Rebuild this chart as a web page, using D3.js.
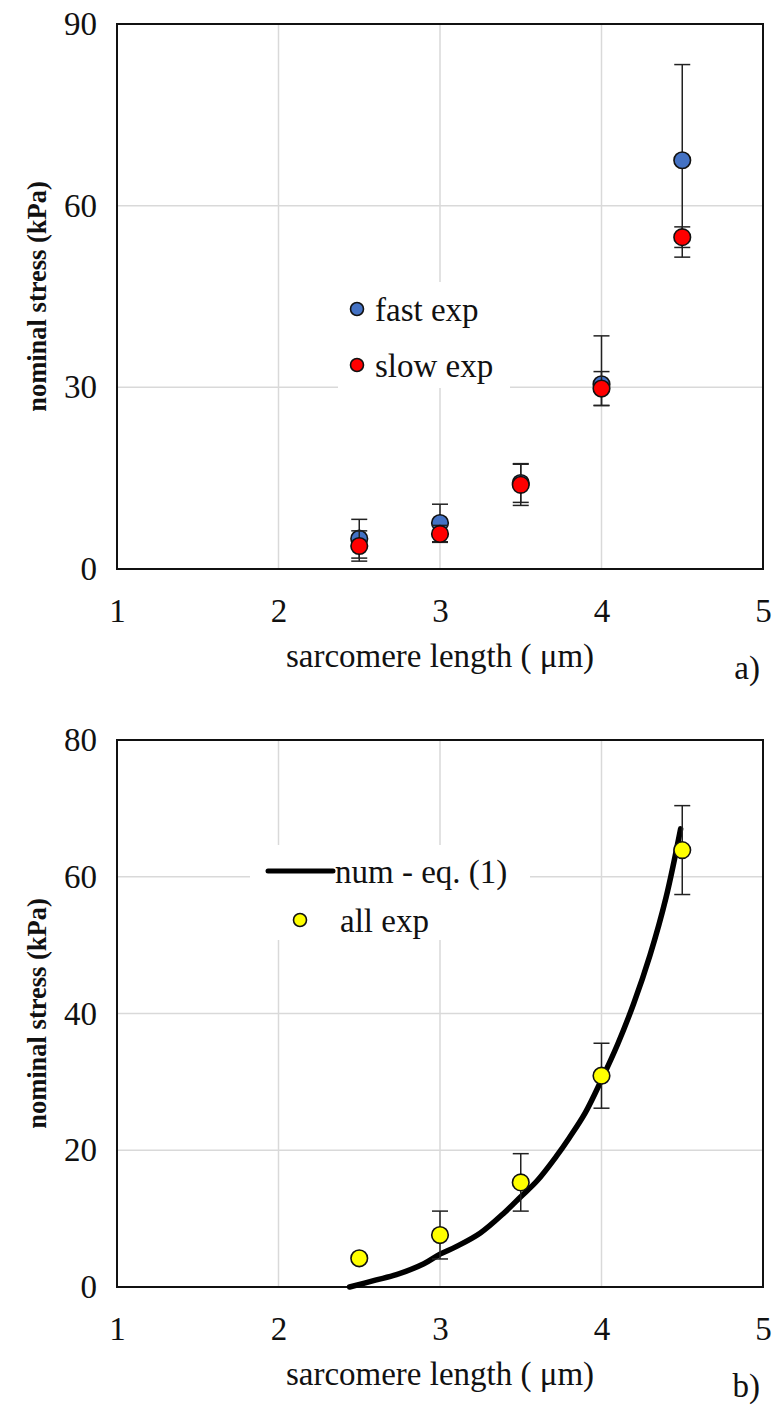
<!DOCTYPE html>
<html>
<head>
<meta charset="utf-8">
<script src="https://cdn.jsdelivr.net/npm/d3@7"></script>
<style>
  html, body { margin: 0; padding: 0; background: #fff; }
  svg { display: block; }
  text { font-family: "Liberation Serif", "Times New Roman", serif; fill: #111; }
</style>
</head>
<body>
<svg id="chart" width="773" height="1410"></svg>
<script>
// ---------------- data ----------------
const xTicks = [1, 2, 3, 4, 5];
const aYTicks = [0, 30, 60, 90];
const bYTicks = [0, 20, 40, 60, 80];

const sarcomereLength = [2.5, 3.0, 3.5, 4.0, 4.5];

// panel a)
const fastExp = [5.0, 7.6, 14.2, 30.5, 67.5];
const fastErrUp = [3.2, 3.1, 3.2, 8.0, 15.8];
const fastErrDown = [3.2, 3.1, 3.2, 3.5, 16.0];
const slowExp = [3.8, 5.8, 13.9, 29.8, 54.8];
const slowErrUp = [2.5, 1.4, 3.4, 2.8, 1.7];
const slowErrDown = [2.5, 1.4, 3.4, 2.8, 1.7];

// panel b)
const allExp = [4.2, 7.6, 15.3, 30.9, 63.9];
const allErrUp = [0.0, 3.5, 4.2, 4.75, 6.5];
const allErrDown = [0.0, 3.5, 4.2, 4.75, 6.5];
const numX = [2.44, 2.6, 2.73, 2.9, 3.0, 3.1, 3.25, 3.4, 3.5, 3.6, 3.72, 3.8, 3.9, 4.0, 4.1, 4.2, 4.3, 4.4, 4.49];
const numY = [0.0, 1.0, 1.8, 3.4, 4.8, 5.9, 7.9, 10.9, 13.2, 15.5, 19.1, 21.8, 25.5, 30.3, 35.5, 41.5, 48.5, 57.0, 67.0];

const xLabel = "sarcomere length ( \u03bcm)";
const yLabel = "nominal stress (kPa)";

// ---------------- drawing ----------------
const svg = d3.select("#chart");
const fontSize = 33;

function panel(cfg) {
  const g = svg.append("g");
  const x = d3.scaleLinear().domain([1, 5]).range([cfg.left, cfg.right]);
  const y = d3.scaleLinear().domain([0, cfg.yMax]).range([cfg.bottom, cfg.top]);

  // grid
  g.append("g").selectAll("line").data(xTicks.slice(1, -1)).join("line")
    .attr("x1", d => x(d)).attr("x2", d => x(d))
    .attr("y1", cfg.top).attr("y2", cfg.bottom)
    .attr("stroke", "#d9d9d9").attr("stroke-width", 1.5);
  g.append("g").selectAll("line").data(cfg.yTicks.slice(1, -1)).join("line")
    .attr("x1", cfg.left).attr("x2", cfg.right)
    .attr("y1", d => y(d)).attr("y2", d => y(d))
    .attr("stroke", "#d9d9d9").attr("stroke-width", 1.5);

  // axes (labels only)
  const xAxis = d3.axisBottom(x).tickValues(xTicks).tickSize(0).tickPadding(30).tickFormat(d3.format("d"));
  const gx = g.append("g").attr("transform", `translate(0,${cfg.bottom})`).call(xAxis);
  gx.select(".domain").remove();
  gx.selectAll("text").attr("font-size", fontSize).attr("font-family", "Liberation Serif").attr("fill", "#111");

  const yAxis = d3.axisLeft(y).tickValues(cfg.yTicks).tickSize(0).tickPadding(20).tickFormat(d3.format("d"));
  const gy = g.append("g").attr("transform", `translate(${cfg.left},0)`).call(yAxis);
  gy.select(".domain").remove();
  gy.selectAll("text").attr("font-size", fontSize).attr("font-family", "Liberation Serif").attr("fill", "#111");

  // frame
  g.append("rect").attr("x", cfg.left).attr("y", cfg.top)
    .attr("width", cfg.right - cfg.left).attr("height", cfg.bottom - cfg.top)
    .attr("fill", "none").attr("stroke", "#111").attr("stroke-width", 2);

  // titles
  g.append("text").attr("x", (cfg.left + cfg.right) / 2).attr("y", cfg.bottom + 98)
    .attr("text-anchor", "middle").attr("font-size", fontSize).text(xLabel);
  g.append("text")
    .attr("transform", `translate(46,${(cfg.top + cfg.bottom) / 2}) rotate(-90)`)
    .attr("text-anchor", "middle").attr("font-size", 26.5).attr("font-weight", "bold").text(yLabel);
  g.append("text").attr("x", 760).attr("y", cfg.bottom + 110)
    .attr("text-anchor", "end").attr("font-size", fontSize).text(cfg.letter);

  return { g, x, y };
}

function errorBars(p, xs, ys, up, down) {
  const d = xs.map((v, i) => ({ x: v, y: ys[i], u: up[i], l: down[i] })).filter(o => o.u > 0 || o.l > 0);
  const eg = p.g.append("g").attr("stroke", "#222").attr("stroke-width", 1.5);
  eg.selectAll("line.v").data(d).join("line")
    .attr("x1", o => p.x(o.x)).attr("x2", o => p.x(o.x))
    .attr("y1", o => p.y(o.y - o.l)).attr("y2", o => p.y(o.y + o.u));
  eg.selectAll("line.t").data(d).join("line")
    .attr("x1", o => p.x(o.x) - 8).attr("x2", o => p.x(o.x) + 8)
    .attr("y1", o => p.y(o.y + o.u)).attr("y2", o => p.y(o.y + o.u));
  eg.selectAll("line.b").data(d).join("line")
    .attr("x1", o => p.x(o.x) - 8).attr("x2", o => p.x(o.x) + 8)
    .attr("y1", o => p.y(o.y - o.l)).attr("y2", o => p.y(o.y - o.l));
}

function dots(p, xs, ys, color) {
  p.g.append("g").selectAll("circle").data(xs.map((v, i) => [v, ys[i]])).join("circle")
    .attr("cx", d => p.x(d[0])).attr("cy", d => p.y(d[1])).attr("r", 8.3)
    .attr("fill", color).attr("stroke", "#111").attr("stroke-width", 1.6);
}

// ----- panel a -----
const pa = panel({ left: 117, right: 763, top: 24, bottom: 569, yMax: 90, yTicks: aYTicks, letter: "a)" });

// legend a
const la = pa.g.append("g");
la.append("rect").attr("x", 338).attr("y", 282).attr("width", 172).attr("height", 106).attr("fill", "#fff");
la.append("circle").attr("cx", 357).attr("cy", 309).attr("r", 6.5).attr("fill", "#4472c4").attr("stroke", "#111").attr("stroke-width", 1.6);
la.append("text").attr("x", 375).attr("y", 321).attr("font-size", fontSize).text("fast exp");
la.append("circle").attr("cx", 357).attr("cy", 365).attr("r", 6.5).attr("fill", "#ff0000").attr("stroke", "#111").attr("stroke-width", 1.6);
la.append("text").attr("x", 375).attr("y", 377).attr("font-size", fontSize).text("slow exp");

errorBars(pa, sarcomereLength, fastExp, fastErrUp, fastErrDown);
dots(pa, sarcomereLength, fastExp, "#4472c4");
errorBars(pa, sarcomereLength, slowExp, slowErrUp, slowErrDown);
dots(pa, sarcomereLength, slowExp, "#ff0000");

// ----- panel b -----
const pb = panel({ left: 117, right: 763, top: 740, bottom: 1287, yMax: 80, yTicks: bYTicks, letter: "b)" });

// legend b
const lb = pb.g.append("g");
lb.append("rect").attr("x", 250).attr("y", 845).attr("width", 280).attr("height", 95).attr("fill", "#fff");
lb.append("line").attr("x1", 268).attr("x2", 333).attr("y1", 871).attr("y2", 871).attr("stroke", "#000").attr("stroke-width", 5).attr("stroke-linecap", "round");
lb.append("text").attr("x", 335).attr("y", 883).attr("font-size", fontSize).text("num - eq. (1)");
lb.append("circle").attr("cx", 300).attr("cy", 920).attr("r", 6.5).attr("fill", "#ffff00").attr("stroke", "#111").attr("stroke-width", 1.6);
lb.append("text").attr("x", 340).attr("y", 932).attr("font-size", fontSize).text("all exp");

const line = d3.line().x(d => pb.x(d[0])).y(d => pb.y(d[1])).curve(d3.curveCatmullRom);
pb.g.append("path").datum(numX.map((v, i) => [v, numY[i]]))
  .attr("d", line).attr("fill", "none").attr("stroke", "#000").attr("stroke-width", 5.5)
  .attr("stroke-linecap", "round").attr("stroke-linejoin", "round");

errorBars(pb, sarcomereLength, allExp, allErrUp, allErrDown);
dots(pb, sarcomereLength, allExp, "#ffff00");
</script>
</body>
</html>
